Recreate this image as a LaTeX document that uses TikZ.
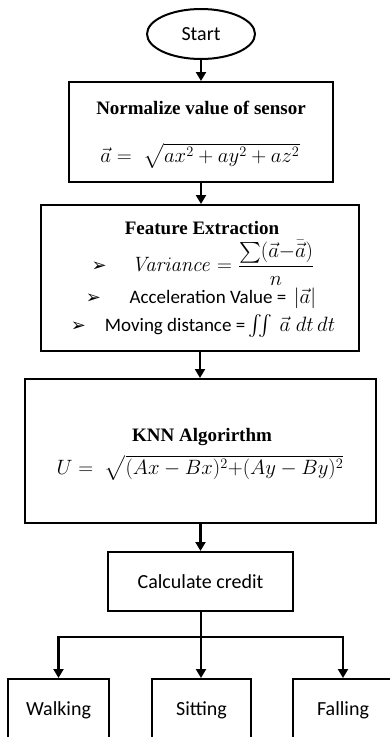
\documentclass[tikz,border=0pt]{standalone}
\usepackage{amsmath}
\usepackage[no-math]{fontspec}
\setmainfont{Carlito}
\newfontfamily\ttlfont{Liberation Serif}
\newfontfamily\dvfont{DejaVu Sans}
\usetikzlibrary{arrows.meta,shapes.geometric}
\newcommand\mkr{{\dvfont\fontsize{18}{18}\selectfont ➢}}
\begin{document}
\begin{tikzpicture}[x=1pt,y=-1pt,
  box/.style={draw, line width=2pt, rectangle, inner sep=0pt},
  arr/.style={line width=2.4pt, -{Triangle[width=10pt,length=9pt]}},
  ttl/.style={font=\ttlfont\bfseries\fontsize{19}{22}\selectfont, inner sep=0pt},
  lbl/.style={font=\fontsize{20}{24}\selectfont, inner sep=0pt},
  lbltwo/.style={font=\fontsize{19}{22}\selectfont, inner sep=0pt},
  eq/.style={font=\fontsize{19.5}{22}\selectfont, inner sep=0pt}]
\useasboundingbox (0,0) rectangle (390,737);
\clip (0,0) rectangle (390,737);

\node[ellipse, draw, line width=2pt, minimum width=108pt, minimum height=50pt, lbl] (start) at (201,34) {Start};

\node[box, minimum width=264pt, minimum height=100pt] (b1) at (201,132) {};
\node[ttl] (b1t) at (201,108) {Normalize value of sensor};
\node[eq] (b1f) at (200,156) {$\vec{a} =\; \sqrt{ax^2+ay^2+az^2}$};

\node[box, minimum width=318pt, minimum height=146pt] (b2) at (200,278) {};
\node[ttl] (b2t) at (202,228) {Feature Extraction};
\node[eq] (b2v) at (203,263) {\mkr\quad\;$\mathit{Variance} = \dfrac{\textstyle\sum(\vec a{-}\bar{\vec a})}{n}$};
\node[lbltwo] (b2a) at (201,298) {\mkr\quad\; Acceleration Value = \,{\fontsize{21}{24}\selectfont$|\vec a|$}};
\node[lbltwo] (b2m) at (203,326) {\mkr\quad Moving distance =\,{\fontsize{22}{24}\selectfont$\iint\,\vec a\;dt\,dt$}};

\node[box, minimum width=351pt, minimum height=144pt] (b3) at (200.5,451) {};
\node[ttl] (b3t) at (202,437) {KNN Algorirthm};
\node[eq] (b3f) at (200,468) {$U =\; \sqrt{(Ax-Bx)^2{+}(Ay-By)^2}$};

\node[box, minimum width=185pt, minimum height=59pt, lbl] (calc) at (200.5,581.5) {Calculate credit};

\node[box, minimum width=101pt, minimum height=62pt, lbl] (walk) at (58.5,710) {Walking};
\node[box, minimum width=99pt, minimum height=62pt, lbl] (sit) at (201.5,710) {Sitting};
\node[box, minimum width=100pt, minimum height=62pt, lbl] (fall) at (343,710) {Falling};

\coordinate (j) at (201,637);

\draw[arr] (start) -- (b1);
\draw[arr] (b1.south) -- (b1.south |- b2.north);
\draw[arr] (b2.south) -- (b2.south |- b3.north);
\draw[arr] (b3.south) -- (b3.south |- calc.north);
\draw[arr] (j) -| (walk.north);
\draw[arr] (j) -| (fall.north);
\draw[line width=2.4pt] (calc.south -| j) -- (j);
\draw[arr] (j) -- (j |- sit.north);
\end{tikzpicture}
\end{document}
